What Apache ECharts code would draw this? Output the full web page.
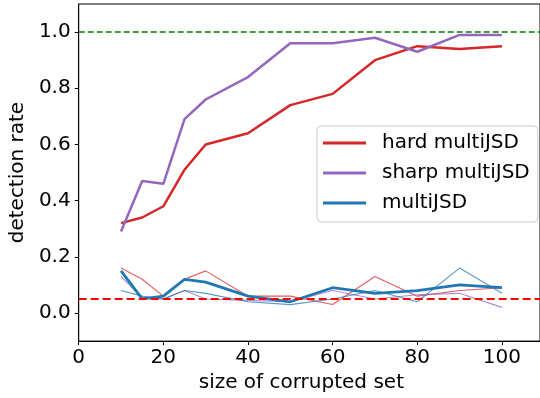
<!DOCTYPE html>
<html>
<head>
<meta charset="utf-8">
<script src="https://cdn.jsdelivr.net/npm/echarts@6/dist/echarts.min.js"></script>
<style>html,body{margin:0;padding:0;background:#fff}#c{width:540px;height:398px}</style>
</head>
<body>
<div id="c"></div>
<script>
const sizes = [10, 15, 20, 25, 30, 40, 50, 60, 70, 80, 90, 100];
const hardMain = [0.32, 0.34, 0.38, 0.51, 0.60, 0.64, 0.74, 0.78, 0.90, 0.95, 0.94, 0.95];
const sharpMain = [0.29, 0.47, 0.46, 0.69, 0.76, 0.84, 0.96, 0.96, 0.98, 0.93, 0.99, 0.99];
const jsdMain = [0.15, 0.05, 0.06, 0.12, 0.11, 0.06, 0.04, 0.09, 0.07, 0.08, 0.10, 0.09];
const hardLow = [0.16, 0.12, 0.06, 0.12, 0.15, 0.06, 0.06, 0.03, 0.13, 0.06, 0.08, 0.09];
const sharpLow = [0.13, 0.055, 0.05, 0.08, 0.05, 0.045, 0.04, 0.08, 0.05, 0.065, 0.07, 0.02];
const jsdLow = [0.08, 0.06, 0.05, 0.08, 0.07, 0.04, 0.03, 0.05, 0.08, 0.04, 0.16, 0.07];
const xTicks = [0, 20, 40, 60, 80, 100];
const yTicks = [0, 0.2, 0.4, 0.6, 0.8, 1.0];
const targetRate = 1.0;
const baselineRate = 0.05;
const xRange = [0, 109];
const yRange = [-0.1, 1.1];

const pairs = v => sizes.map((x, i) => [x, v[i]]);
const C = {red: '#d62728', purple: '#9467bd', blue: '#1f77b4'};
const font = 'DejaVu Sans';

function mainLine(name, vals, color, w) {
  return {name, type: 'line', data: pairs(vals), showSymbol: false, symbol: 'none',
    lineStyle: {color, width: w}, itemStyle: {color}, animation: false, z: 3};
}
function thinLine(name, vals, color) {
  return {name, type: 'line', data: pairs(vals), showSymbol: false, symbol: 'none',
    lineStyle: {color, width: 1.1, opacity: 0.75}, itemStyle: {color}, animation: false, z: 2};
}

const chart = echarts.init(document.getElementById('c'), null, {renderer: 'canvas'});
chart.setOption({
  backgroundColor: '#fff',
  animation: false,
  textStyle: {fontFamily: font},
  grid: {left: 76, top: 4, bottom: 56, right: -5, show: true, borderColor: '#000', borderWidth: 1, containLabel: false},
  xAxis: {
    type: 'value', min: xRange[0], max: xRange[1],
    name: 'size of corrupted set', nameLocation: 'middle', nameGap: 31,
    nameTextStyle: {fontSize: 20, color: '#000', fontFamily: font, padding: [0, 16, 0, 0]},
    axisLine: {show: true, onZero: false, lineStyle: {color: '#000', width: 1}},
    axisTick: {show: true, length: 4, lineStyle: {color: '#000'}, customValues: xTicks},
    axisLabel: {fontSize: 20, color: '#000', fontFamily: font, margin: 7, customValues: xTicks, formatter: v => String(v)},
    splitLine: {show: false}
  },
  yAxis: {
    type: 'value', min: yRange[0], max: yRange[1],
    name: 'detection rate', nameLocation: 'middle', nameGap: 48,
    nameTextStyle: {fontSize: 20, color: '#000', fontFamily: font},
    axisLine: {show: true, onZero: false, lineStyle: {color: '#000', width: 1}},
    axisTick: {show: true, length: 4, lineStyle: {color: '#000'}, customValues: yTicks},
    axisLabel: {fontSize: 20, color: '#000', fontFamily: font, margin: 8, customValues: yTicks, formatter: v => v.toFixed(1)},
    splitLine: {show: false}
  },
  legend: {
    orient: 'vertical', left: 317, top: 126,
    data: ['hard multiJSD', 'sharp multiJSD', 'multiJSD'],
    icon: 'rect', itemWidth: 43, itemHeight: 3, itemGap: 8,
    padding: [6, 8, 8, 6],
    backgroundColor: 'rgba(255,255,255,0.85)', borderColor: '#cccccc', borderWidth: 1, borderRadius: 4,
    textStyle: {fontSize: 20, color: '#000', fontFamily: font, lineHeight: 22, padding: [0, 0, 0, 11]}
  },
  series: [
    thinLine('hard low', hardLow, C.red),
    thinLine('sharp low', sharpLow, C.purple),
    thinLine('jsd low', jsdLow, C.blue),
    mainLine('hard multiJSD', hardMain, C.red, 2.5),
    mainLine('sharp multiJSD', sharpMain, C.purple, 2.5),
    mainLine('multiJSD', jsdMain, C.blue, 2.8),
    {name: 'target', type: 'line', data: [[xRange[0], targetRate], [xRange[1], targetRate]], symbol: 'none',
      lineStyle: {color: '#008000', width: 1.5, type: [6, 3]}, z: 4, silent: true},
    {name: 'baseline', type: 'line', data: [[xRange[0], baselineRate], [xRange[1], baselineRate]], symbol: 'none',
      lineStyle: {color: '#ff0000', width: 2, type: [8, 4]}, z: 4, silent: true}
  ]
});
</script>
</body>
</html>
